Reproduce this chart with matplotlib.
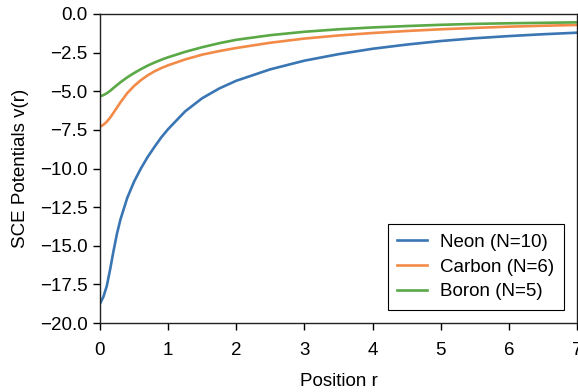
import matplotlib
matplotlib.use("Agg")
import matplotlib.pyplot as plt

plt.rcParams["font.family"] = ["Liberation Sans", "DejaVu Sans"]

# Valores
r = [0.0, 0.05, 0.1, 0.15, 0.2, 0.25, 0.3, 0.4, 0.5, 0.6, 0.7, 0.8, 0.9, 1.0,
     1.25, 1.5, 1.75, 2.0, 2.5, 3.0, 3.5, 4.0, 4.5, 5.0, 5.5, 6.0, 6.5, 7.0]

neon = [-18.75, -18.3, -17.6, -16.5, -15.3, -14.2, -13.3, -11.9, -10.85, -10.0,
        -9.25, -8.6, -7.98, -7.45, -6.3, -5.45, -4.82, -4.32, -3.58, -3.02,
        -2.6, -2.25, -1.98, -1.75, -1.57, -1.43, -1.31, -1.21]
carbono = [-7.3, -7.17, -6.97, -6.7, -6.38, -6.05, -5.72, -5.12, -4.66, -4.28,
           -3.97, -3.71, -3.5, -3.32, -2.94, -2.63, -2.4, -2.2, -1.86, -1.59,
           -1.39, -1.23, -1.1, -0.99, -0.9, -0.82, -0.76, -0.71]
boro = [-5.33, -5.25, -5.13, -4.97, -4.78, -4.6, -4.42, -4.1, -3.82, -3.57,
        -3.34, -3.14, -2.96, -2.8, -2.45, -2.15, -1.89, -1.67, -1.37, -1.15,
        -0.99, -0.87, -0.78, -0.7, -0.64, -0.6, -0.57, -0.54]

rotulos = ["Neon (N=10)", "Carbon (N=6)", "Boron (N=5)"]
cores = ["#3a76b3", "#f28a48", "#5aa846"]

fig = plt.figure(figsize=(5.78, 3.92), dpi=100)
ax = fig.add_axes([100 / 578, 1 - 323 / 392, 477 / 578, 309 / 392])

for serie, rotulo, cor in zip([neon, carbono, boro], rotulos, cores):
    ax.plot(r, serie, color=cor, lw=1.9, label=rotulo)

ax.set_xlim(0, 7)
ax.set_ylim(-20, 0)
ax.set_yticks([0, -2.5, -5, -7.5, -10, -12.5, -15, -17.5, -20])
ax.set_yticklabels(["0.0", "\u22122.5", "\u22125.0", "\u22127.5", "\u221210.0",
                    "\u221212.5", "\u221215.0", "\u221217.5", "\u221220.0"])
ax.tick_params(direction="out", length=5, width=1, labelsize=13.5)
ax.tick_params(axis="y", pad=4)
ax.tick_params(axis="x", pad=9)
for lado in ax.spines.values():
    lado.set_linewidth(1)
    lado.set_color("#222222")

ax.set_xlabel("Position r", fontsize=13.5, labelpad=10)
ax.set_ylabel("SCE Potentials v(r)", fontsize=13.5, labelpad=8)

leg = ax.legend(loc="lower right", fontsize=13.5, fancybox=False, edgecolor="black",
                handlelength=1.6, handletextpad=0.7, borderaxespad=0.7,
                borderpad=0.5, labelspacing=0.42, framealpha=1)
leg.get_frame().set_linewidth(0.8)

fig.savefig("out.png", dpi=100)
